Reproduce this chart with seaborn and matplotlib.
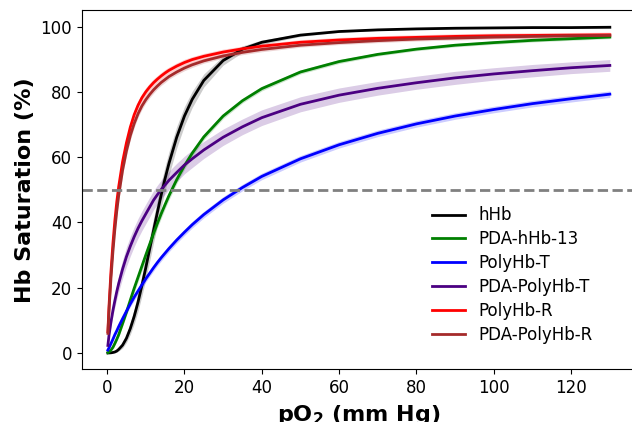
import numpy as np
import pandas as pd
import seaborn as sns
import matplotlib
matplotlib.use('Agg')
import matplotlib.pyplot as plt

po2 = [0.2, 0.5, 1, 1.5, 2, 2.5, 3, 4, 5, 6, 7, 8, 9, 10, 11, 12, 13, 14, 15, 16,
       18, 20, 22, 25, 30, 35, 40, 50, 60, 70, 80, 90, 100, 110, 120, 130]

# saturation (%) for each sample
hhb = [0, 0.01, 0.05, 0.15, 0.3, 0.6, 1.1, 2.4, 4.5, 7.5, 11.2, 15.6, 20.7, 26.1, 31.8, 37.5, 43.1, 48.5, 53.5, 58.1,
       66.1, 72.6, 77.7, 83.5, 89.6, 93.1, 95.2, 97.4, 98.5, 99.0, 99.3, 99.5, 99.6, 99.7, 99.7, 99.8]
pda_hhb13 = [0.1, 0.3, 0.9, 1.7, 2.9, 4.2, 5.6, 9.0, 12.5, 16.2, 19.8, 23.2, 26.6, 30.0, 33.3, 36.6, 39.7, 42.7, 45.5, 48.2,
             53.1, 57.4, 61.2, 66.2, 72.6, 77.3, 81.0, 86.1, 89.3, 91.5, 93.1, 94.3, 95.1, 95.8, 96.3, 96.8]
polyhb_t = [0.9, 1.6, 2.9, 4.2, 5.6, 6.8, 8.1, 10.5, 12.8, 15.0, 17.1, 19.0, 20.9, 22.7, 24.4, 26.1, 27.7, 29.2, 30.6, 32.0,
            34.6, 37.0, 39.3, 42.4, 46.9, 50.7, 54.1, 59.5, 63.8, 67.3, 70.2, 72.6, 74.6, 76.4, 77.9, 79.3]
pda_polyhb_t = [2.3, 5.5, 9.5, 13.0, 16.0, 18.8, 21.3, 25.7, 29.5, 32.7, 35.6, 38.2, 40.5, 42.6, 44.7, 46.8, 48.5, 50.1, 51.5, 52.9,
                55.3, 57.6, 59.5, 62.2, 66.1, 69.3, 72.1, 76.2, 79.0, 81.1, 82.8, 84.3, 85.5, 86.5, 87.4, 88.1]
polyhb_r = [6.5, 14.5, 25.0, 33.5, 40.5, 46.3, 51.0, 58.6, 64.4, 69.2, 73.0, 75.9, 78.2, 80.0, 81.5, 82.8, 83.9, 84.9, 85.8, 86.6,
            87.9, 89.0, 89.9, 90.9, 92.2, 93.2, 94.0, 95.2, 95.9, 96.4, 96.7, 97.0, 97.2, 97.3, 97.4, 97.5]
pda_polyhb_r = [6.0, 13.2, 23.0, 31.0, 37.8, 43.5, 48.3, 56.0, 61.9, 66.6, 70.3, 73.3, 75.7, 77.6, 79.2, 80.6, 81.8, 82.9, 83.8, 84.7,
                86.1, 87.3, 88.3, 89.5, 91.0, 92.1, 93.0, 94.3, 95.1, 95.7, 96.2, 96.5, 96.8, 97.0, 97.2, 97.3]

# half widths of the shaded bands (%)
hhb_err = [0, 0, 0.05, 0.1, 0.2, 0.35, 0.5, 0.9, 1.3, 1.8, 2.3, 2.8, 3.2, 3.5, 3.7, 3.8, 3.8, 3.8, 3.7, 3.6,
           3.3, 2.9, 2.5, 2.0, 1.4, 1.0, 0.7, 0.4, 0.25, 0.15, 0.1, 0.1, 0.1, 0.1, 0.1, 0.1]
pda_hhb13_err = [0.05, 0.1, 0.2, 0.3, 0.4, 0.5, 0.6, 0.8, 1.0, 1.2, 1.3, 1.4, 1.5, 1.5, 1.5, 1.5, 1.4, 1.4, 1.3, 1.3,
                 1.2, 1.1, 1.0, 0.9, 0.8, 0.7, 0.7, 0.6, 0.6, 0.5, 0.5, 0.5, 0.5, 0.5, 0.5, 0.5]
polyhb_t_err = [0.2, 0.3, 0.4, 0.5, 0.6, 0.6, 0.7, 0.8, 0.9, 0.9, 1.0, 1.0, 1.0, 1.0, 1.0, 1.0, 1.0, 1.0, 1.0, 1.0,
                1.0, 1.0, 1.0, 1.0, 1.0, 1.0, 1.0, 1.0, 1.0, 1.0, 1.0, 1.0, 1.0, 1.0, 1.0, 1.0]
pda_polyhb_t_err = [0.3, 0.8, 1.3, 1.7, 2.0, 2.3, 2.5, 2.8, 3.0, 3.0, 3.0, 3.0, 3.0, 3.0, 3.0, 2.9, 2.9, 2.9, 2.8, 2.8,
                    2.8, 2.7, 2.7, 2.6, 2.5, 2.4, 2.4, 2.3, 2.2, 2.1, 2.0, 2.0, 1.9, 1.9, 1.8, 1.8]
polyhb_r_err = [0.5, 1.2, 1.8, 2.0, 2.0, 2.0, 2.0, 1.8, 1.7, 1.6, 1.5, 1.4, 1.3, 1.3, 1.2, 1.2, 1.1, 1.1, 1.1, 1.0,
                1.0, 1.0, 0.9, 0.9, 0.9, 0.8, 0.8, 0.8, 0.8, 0.8, 0.8, 0.8, 0.8, 0.8, 0.8, 0.8]
pda_polyhb_r_err = [0.4, 1.0, 1.5, 1.7, 1.7, 1.7, 1.7, 1.5, 1.4, 1.3, 1.2, 1.1, 1.1, 1.0, 1.0, 1.0, 0.9, 0.9, 0.9, 0.8,
                    0.8, 0.8, 0.8, 0.7, 0.7, 0.7, 0.7, 0.6, 0.6, 0.6, 0.6, 0.6, 0.6, 0.6, 0.6, 0.6]

names = ['hHb', 'PDA-hHb-13', 'PolyHb-T', 'PDA-PolyHb-T', 'PolyHb-R', 'PDA-PolyHb-R']
curves = [hhb, pda_hhb13, polyhb_t, pda_polyhb_t, polyhb_r, pda_polyhb_r]
errs = [hhb_err, pda_hhb13_err, polyhb_t_err, pda_polyhb_t_err, polyhb_r_err, pda_polyhb_r_err]
colors = ['black', 'green', 'blue', 'indigo', 'red', 'brown']

df = pd.concat([pd.DataFrame({'pO2': po2, 'sat': y, 'err': e, 'sample': n})
                for n, y, e in zip(names, curves, errs)], ignore_index=True)

fig = plt.figure(figsize=(6.32, 4.22), dpi=100)
# the original figure is cropped on the right, so the axes run just past the edge
ax = fig.add_axes([0.1297, 0.1249, 0.875, 0.8507])

# shaded bands first
for n, c in zip(names, colors):
    sub = df[df['sample'] == n]
    ax.fill_between(sub['pO2'], sub['sat'] - sub['err'], sub['sat'] + sub['err'],
                    color=c, alpha=0.2, lw=0)

sns.lineplot(data=df, x='pO2', y='sat', hue='sample', hue_order=names,
             palette=dict(zip(names, colors)), lw=2, ax=ax)

ax.axhline(50, color='gray', ls='--', lw=2)

ax.set_xlim(-6.5, 136.5)
ax.set_ylim(-5, 105)
ax.set_xticks([0, 20, 40, 60, 80, 100, 120])
ax.set_yticks([0, 20, 40, 60, 80, 100])
ax.tick_params(labelsize=12)
ax.set_xlabel('pO$_\\mathbf{2}$ (mm Hg)', fontsize=16, fontweight='bold')
ax.set_ylabel('Hb Saturation (%)', fontsize=16, fontweight='bold')

ax.legend(loc='lower right', bbox_to_anchor=(0.951, 0.03), frameon=False,
          fontsize=12, labelspacing=0.35)

fig.savefig('out.png', dpi=100)
